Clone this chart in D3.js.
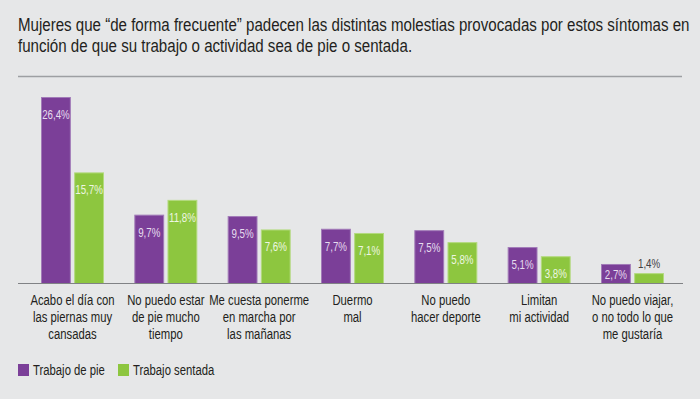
<!DOCTYPE html>
<html>
<head>
<meta charset="utf-8">
<script src="https://cdn.jsdelivr.net/npm/d3@7"></script>
<style>
  body { margin: 0; background: #e6e7e8; }
  svg { display: block; font-family: "Liberation Sans", Arial, sans-serif; }
</style>
</head>
<body>
<svg width="700" height="399"></svg>
<script>
const categories = [
    ['Acabo el día con', 'las piernas muy', 'cansadas'],
    ['No puedo estar', 'de pie mucho', 'tiempo'],
    ['Me cuesta ponerme', 'en marcha por', 'las mañanas'],
    ['Duermo', 'mal'],
    ['No puedo', 'hacer deporte'],
    ['Limitan', 'mi actividad'],
    ['No puedo viajar,', 'o no todo lo que', 'me gustaría']
];
const seriesNames = ['Trabajo de pie', 'Trabajo sentada'];
const dePie = [26.4, 9.7, 9.5, 7.7, 7.5, 5.1, 2.7];
const sentada = [15.7, 11.8, 7.6, 7.1, 5.8, 3.8, 1.4];
const titleLines = [
    'Mujeres que “de forma frecuente” padecen las distintas molestias provocadas por estos síntomas en',
    'función de que su trabajo o actividad sea de pie o sentada.'
];
const colors = ['#7b3f98', '#8dc63f'];
const strokes = ['#a27bb8', '#b3da7e'];
const narrow = 0.78; // letra condensada

const svg = d3.select('svg');

// titulo (ancho ajustado a la primera linea)
const title = svg.append('g')
    .selectAll('g')
    .data(titleLines)
    .join('g');
const titleText = title.append('text')
    .attr('font-size', 17.5)
    .attr('fill', '#231f20')
    .text((d) => d);
const tScale = 672 / titleText.node().getComputedTextLength();
title.attr('transform', (d, i) => `translate(18,${31 + i * 21}) scale(${tScale},1)`);

svg.append('line')
    .attr('x1', 18).attr('x2', 682)
    .attr('y1', 76.5).attr('y2', 76.5)
    .attr('stroke', '#9d9fa2').attr('stroke-width', 1.5);

const keys = categories.map((d) => d.join(' '));
const x = d3.scaleBand().domain(keys).range([41, 664]).paddingInner(0.325).paddingOuter(0);
const xSub = d3.scaleBand().domain(seriesNames).range([0, x.bandwidth()]).paddingInner(0.1);
const y = d3.scaleLinear().domain([0, 26.4]).range([283, 97]);

const rows = keys.map((k, i) => ({ key: k, values: [dePie[i], sentada[i]] }));

const groups = svg.append('g')
    .selectAll('g')
    .data(rows)
    .join('g')
    .attr('transform', (d) => `translate(${x(d.key)},0)`);

const cells = groups.selectAll('g')
    .data((d) => d.values.map((v, j) => ({ v: v, s: seriesNames[j], j: j })))
    .join('g');

cells.append('rect')
    .attr('x', (d) => xSub(d.s) + 0.5)
    .attr('y', (d) => y(d.v) + 0.5)
    .attr('width', xSub.bandwidth() - 1)
    .attr('height', (d) => y(0) - y(d.v))
    .attr('fill', (d) => colors[d.j])
    .attr('stroke', (d) => strokes[d.j])
    .attr('stroke-width', 1);

// etiquetas de valor
const inside = (d) => y(0) - y(d.v) > 15;
cells.append('g')
    .attr('transform', (d) => {
        const ly = inside(d) ? Math.min(y(d.v) + 22, y(0) - 4) : y(d.v) - 5;
        return `translate(${xSub(d.s) + xSub.bandwidth() / 2},${ly}) scale(${narrow},1)`;
    })
    .append('text')
    .attr('text-anchor', 'middle')
    .attr('font-size', 12.5)
    .attr('fill', (d) => (inside(d) ? (d.j ? '#eef6e2' : '#e6dcee') : '#414042'))
    .text((d) => d3.format('.1f')(d.v).replace('.', ',') + '%');

// eje
svg.append('line')
    .attr('x1', 18).attr('x2', 683)
    .attr('y1', 283.5).attr('y2', 283.5)
    .attr('stroke', '#808285').attr('stroke-width', 1.2);

// etiquetas de categoria
svg.append('g')
    .selectAll('g')
    .data(categories)
    .join('g')
    .attr('transform', (d) => `translate(${x(d.join(' ')) + x.bandwidth() / 2},305) scale(${narrow},1)`)
    .append('text')
    .attr('text-anchor', 'middle')
    .attr('font-size', 14.5)
    .attr('fill', '#231f20')
    .selectAll('tspan')
    .data((d) => d)
    .join('tspan')
    .attr('x', 0)
    .attr('dy', (d, i) => (i ? 17 : 0))
    .text((d) => d);

// leyenda
const legend = svg.append('g')
    .selectAll('g')
    .data(seriesNames)
    .join('g')
    .attr('transform', (d, i) => `translate(${[18, 118][i]},364)`);
legend.append('rect')
    .attr('width', 11).attr('height', 12)
    .attr('fill', (d, i) => colors[i]);
legend.append('text')
    .attr('transform', `translate(15,11) scale(${narrow},1)`)
    .attr('font-size', 14.5)
    .attr('fill', '#231f20')
    .text((d) => d);
</script>
</body>
</html>
